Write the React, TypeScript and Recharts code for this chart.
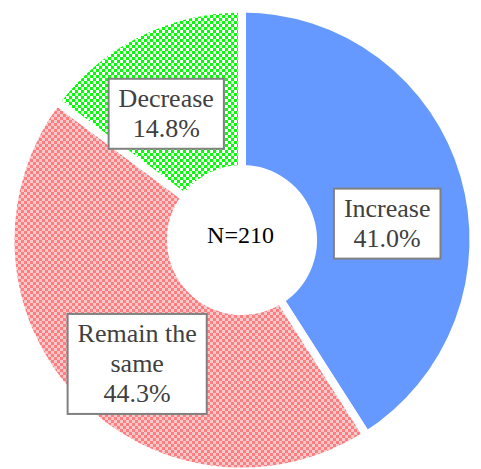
import React from 'react';
import { PieChart, Pie, Cell, Label } from 'recharts';

// Survey answers and their shares (%)
const categories = ['Increase', 'Remain the same', 'Decrease'];
const shares = [41.0, 44.3, 14.8];
const sampleLabel = 'N=210';

const sliceFills = ['#6699FF', 'url(#checkRed)', 'url(#checkGreen)'];
// small shifts of each callout box away from its slice's mid-angle anchor
const labelNudge = [
  { dx: 0, dy: 26 },
  { dx: 6, dy: 21 },
  { dx: -8, dy: 9 },
];

const data = categories.map((name, i) => ({ name, share: shares[i] }));

const FONT = '"Liberation Serif", "Times New Roman", serif';
const FONT_SIZE = 26;
const LINE_H = 30;
const PAD_X = 10;
const FIRST_BASE = 28;
const PAD_BOTTOM = 10;

let measureCtx: CanvasRenderingContext2D | null = null;
function textWidth(s: string): number {
  if (!measureCtx) measureCtx = document.createElement('canvas').getContext('2d');
  if (!measureCtx) return s.length * FONT_SIZE * 0.5;
  measureCtx.font = `${FONT_SIZE}px ${FONT}`;
  return measureCtx.measureText(s).width;
}

function wrap(text: string, max: number): string[] {
  const words = text.split(' ');
  const lines: string[] = [];
  let cur = '';
  for (const w of words) {
    const next = cur ? cur + ' ' + w : w;
    if (cur && textWidth(next) > max) {
      lines.push(cur);
      cur = w;
    } else {
      cur = next;
    }
  }
  if (cur) lines.push(cur);
  return lines;
}

function renderCallout(props: any) {
  const { cx, cy, midAngle, innerRadius, outerRadius, index, payload } = props;
  const RAD = Math.PI / 180;
  const r = (innerRadius + outerRadius) / 2;
  const nudge = labelNudge[index] || { dx: 0, dy: 0 };
  const x = cx + r * Math.cos(-midAngle * RAD) + nudge.dx;
  const y = cy + r * Math.sin(-midAngle * RAD) + nudge.dy;
  const entry = payload && payload.payload ? payload.payload : payload;
  const lines = [...wrap(entry.name, 125), `${Number(entry.share).toFixed(1)}%`];
  const w = Math.max(...lines.map(textWidth)) + 2 * PAD_X;
  const h = lines.length * LINE_H + PAD_BOTTOM;
  const top = y - h / 2;
  return (
    <g key={`callout-${index}`}>
      <rect x={x - w / 2} y={top} width={w} height={h} fill="#ffffff" stroke="#808080" strokeWidth={2} />
      {lines.map((line, i) => (
        <text
          key={i}
          x={x}
          y={top + FIRST_BASE + i * LINE_H}
          textAnchor="middle"
          fill="#404040"
          fontSize={FONT_SIZE}
          fontFamily={FONT}
        >
          {line}
        </text>
      ))}
    </g>
  );
}

export default function App() {
  return (
    <div style={{ position: 'fixed', left: 0, top: 0, width: 481, height: 469, background: '#fff' }}>
      <svg width={0} height={0} style={{ position: 'absolute' }}>
        <defs>
          <pattern id="checkRed" width={6} height={6} patternUnits="userSpaceOnUse">
            <rect width={6} height={6} fill="#ff7c80" />
            <rect x={0} y={0} width={3} height={3} fill="#f2caca" />
            <rect x={3} y={3} width={3} height={3} fill="#f2caca" />
          </pattern>
          <pattern id="checkGreen" width={6} height={6} patternUnits="userSpaceOnUse">
            <rect width={6} height={6} fill="#00ff00" />
            <rect x={0} y={0} width={3} height={3} fill="#ffffff" />
            <rect x={3} y={3} width={3} height={3} fill="#ffffff" />
          </pattern>
        </defs>
      </svg>
      <PieChart width={481} height={469} margin={{ top: 0, right: 0, bottom: 0, left: 0 }}>
        <Pie
          data={data}
          dataKey="share"
          nameKey="name"
          cx={242}
          cy={240}
          innerRadius={71}
          outerRadius={231.5}
          startAngle={90}
          endAngle={-270}
          stroke="#ffffff"
          strokeWidth={8}
          label={renderCallout}
          labelLine={false}
          isAnimationActive={false}
        >
          {data.map((d, i) => (
            <Cell key={d.name} fill={sliceFills[i]} stroke="#ffffff" strokeWidth={8} />
          ))}
          <Label value={sampleLabel} position="center" fill="#000000" fontSize={24} fontFamily={FONT} />
        </Pie>
      </PieChart>
    </div>
  );
}
